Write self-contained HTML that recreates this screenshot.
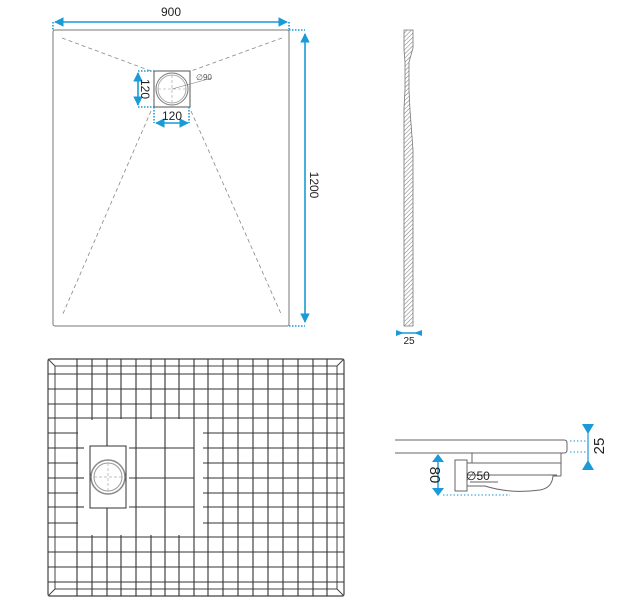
<!DOCTYPE html>
<html><head><style>html,body{margin:0;padding:0;background:#fff}svg{display:block}</style></head>
<body>
<svg width="628" height="600" viewBox="0 0 628 600" xmlns="http://www.w3.org/2000/svg" font-family="Liberation Sans, sans-serif">
<defs>
<marker id="a" viewBox="0 0 10 10" refX="9" refY="5" markerWidth="6" markerHeight="6" orient="auto-start-reverse"><path d="M0,0L10,5L0,10z" fill="#1a9ad6"/></marker>
<pattern id="h" width="3" height="3" patternUnits="userSpaceOnUse" patternTransform="rotate(45)"><line x1="0" y1="0" x2="0" y2="3" stroke="#777" stroke-width="1"/></pattern>
</defs>
<!-- top plan -->
<rect x="53" y="30" width="236" height="296" rx="2" fill="none" stroke="#777" stroke-width="1"/>
<g stroke="#888" stroke-width="0.8" stroke-dasharray="4,3" fill="none">
<line x1="62" y1="38" x2="151" y2="71"/><line x1="282" y1="38" x2="191" y2="71"/>
<line x1="151" y1="111" x2="62" y2="316"/><line x1="191" y1="111" x2="282" y2="316"/>
</g>
<rect x="154" y="71" width="36" height="36" fill="none" stroke="#555" stroke-width="1"/>
<circle cx="172" cy="89" r="16" fill="none" stroke="#777" stroke-width="1"/>
<circle cx="172" cy="89" r="14" fill="none" stroke="#999" stroke-width="0.8"/>
<g stroke="#999" stroke-width="0.6" stroke-dasharray="3,2"><line x1="158" y1="89" x2="186" y2="89"/><line x1="172" y1="75" x2="172" y2="103"/></g>
<line x1="172" y1="89" x2="212" y2="78" stroke="#777" stroke-width="0.6"/>
<text x="196" y="80" font-size="8" fill="#555">∅90</text>
<g stroke="#1a9ad6" stroke-width="1.6" fill="none">
<line x1="55" y1="22" x2="287" y2="22" marker-start="url(#a)" marker-end="url(#a)"/>
<line x1="305" y1="34" x2="305" y2="322" marker-start="url(#a)" marker-end="url(#a)"/>
<line x1="138" y1="73" x2="138" y2="105" marker-start="url(#a)" marker-end="url(#a)"/>
<line x1="156" y1="123" x2="188" y2="123" marker-start="url(#a)" marker-end="url(#a)"/>
</g>
<g stroke="#1a9ad6" stroke-width="1.6" stroke-dasharray="1.5,1.5" fill="none">
<line x1="53" y1="22" x2="53" y2="30"/><line x1="289" y1="22" x2="289" y2="30"/>
<line x1="289" y1="30" x2="305" y2="30"/><line x1="289" y1="326" x2="305" y2="326"/>
<line x1="138" y1="71" x2="154" y2="71"/><line x1="138" y1="107" x2="154" y2="107"/>
<line x1="154" y1="107" x2="154" y2="123"/><line x1="189" y1="107" x2="189" y2="123"/>
</g>
<text x="171" y="16" font-size="12" text-anchor="middle" fill="#222">900</text>
<text transform="translate(310,185) rotate(90)" font-size="12" text-anchor="middle" fill="#222">1200</text>
<text transform="translate(141,89) rotate(90)" font-size="12" text-anchor="middle" fill="#222">120</text>
<text x="172" y="120" font-size="12" text-anchor="middle" fill="#222">120</text>
<!-- side profile -->
<path d="M404,30 L413,30 L413,48 L409,62 L409,90 L410,110 L413,150 L413,326 L404,326 L404,108 L405,90 L405,62 L404,50 Z" fill="url(#h)" stroke="#777" stroke-width="0.8"/>
<line x1="398" y1="333" x2="420" y2="333" stroke="#1a9ad6" stroke-width="1.4"/>
<path d="M396,330L404,333L396,336z M422,330L414,333L422,336z" fill="#1a9ad6"/>
<text x="409" y="344" font-size="10" text-anchor="middle" fill="#222">25</text>
<!-- grid plan -->
<rect x="48" y="359" width="296" height="237" rx="2" fill="none" stroke="#444" stroke-width="1.2"/>
<rect x="55" y="366" width="282" height="223" fill="none" stroke="#444" stroke-width="1"/>
<g stroke="#444" stroke-width="1"><line x1="48" y1="359" x2="55" y2="366"/><line x1="344" y1="359" x2="337" y2="366"/><line x1="48" y1="596" x2="55" y2="589"/><line x1="344" y1="596" x2="337" y2="589"/></g>
<g stroke="#333" stroke-width="1.1">
<line x1="77" y1="359" x2="77" y2="596"/><line x1="92" y1="359" x2="92" y2="596"/><line x1="107" y1="359" x2="107" y2="596"/><line x1="121" y1="359" x2="121" y2="596"/><line x1="136" y1="359" x2="136" y2="596"/><line x1="151" y1="359" x2="151" y2="596"/><line x1="165" y1="359" x2="165" y2="596"/><line x1="179" y1="359" x2="179" y2="596"/><line x1="194" y1="359" x2="194" y2="596"/><line x1="208" y1="359" x2="208" y2="596"/><line x1="223" y1="359" x2="223" y2="596"/><line x1="238" y1="359" x2="238" y2="596"/><line x1="253" y1="359" x2="253" y2="596"/><line x1="268" y1="359" x2="268" y2="596"/><line x1="283" y1="359" x2="283" y2="596"/><line x1="298" y1="359" x2="298" y2="596"/><line x1="313" y1="359" x2="313" y2="596"/><line x1="327" y1="359" x2="327" y2="596"/>
<line x1="48" y1="374" x2="344" y2="374"/><line x1="48" y1="389" x2="344" y2="389"/><line x1="48" y1="404" x2="344" y2="404"/><line x1="48" y1="418" x2="344" y2="418"/><line x1="48" y1="433" x2="344" y2="433"/><line x1="48" y1="448" x2="344" y2="448"/><line x1="48" y1="463" x2="344" y2="463"/><line x1="48" y1="478" x2="344" y2="478"/><line x1="48" y1="493" x2="344" y2="493"/><line x1="48" y1="507" x2="344" y2="507"/><line x1="48" y1="523" x2="344" y2="523"/><line x1="48" y1="537" x2="344" y2="537"/><line x1="48" y1="552" x2="344" y2="552"/><line x1="48" y1="567" x2="344" y2="567"/><line x1="48" y1="582" x2="344" y2="582"/>
</g>
<rect x="78" y="419" width="125" height="116" fill="#fff"/>
<g stroke="#333" stroke-width="1.1">
<line x1="136" y1="419" x2="136" y2="536"/><line x1="165" y1="419" x2="165" y2="536"/><line x1="194" y1="419" x2="194" y2="536"/>
<line x1="129" y1="448" x2="194" y2="448"/><line x1="129" y1="478" x2="194" y2="478"/><line x1="129" y1="507" x2="194" y2="507"/>
<line x1="77" y1="448" x2="84" y2="448"/><line x1="77" y1="478" x2="84" y2="478"/><line x1="77" y1="507" x2="84" y2="507"/>
<line x1="107" y1="419" x2="107" y2="446"/><line x1="107" y1="508" x2="107" y2="536"/>
<line x1="92" y1="419" x2="92" y2="420"/>
</g>
<rect x="90" y="446" width="36" height="62" fill="#fff" stroke="#333" stroke-width="1"/>
<circle cx="108" cy="477" r="17" fill="none" stroke="#888" stroke-width="1.5"/>
<circle cx="108" cy="477" r="14" fill="none" stroke="#999" stroke-width="1"/>
<g stroke="#aaa" stroke-width="0.7" stroke-dasharray="3,2"><line x1="94" y1="477" x2="122" y2="477"/><line x1="108" y1="463" x2="108" y2="491"/></g>
<!-- section -->
<path d="M395,440 L564,440 Q567,440 567,443 L567,450 Q567,453 564,453 L395,453" fill="none" stroke="#666" stroke-width="1"/>
<line x1="472" y1="453" x2="472" y2="463" stroke="#666"/>
<line x1="561" y1="453" x2="561" y2="476" stroke="#666"/>
<rect x="455" y="460" width="12" height="31" fill="none" stroke="#666"/>
<line x1="467" y1="463" x2="561" y2="463" stroke="#666"/>
<line x1="467" y1="475" x2="557" y2="475" stroke="#666"/>
<path d="M467,486 L485,486 Q510,494 540,490 Q552,488 553,476 L561,476" fill="none" stroke="#666"/>
<line x1="470" y1="482" x2="498" y2="482" stroke="#666"/>
<text x="466" y="480" font-size="12" fill="#222">∅50</text>
<line x1="438" y1="460" x2="438" y2="490" stroke="#1a9ad6" stroke-width="1.4"/>
<path d="M432,462L438,454L444,462z M432,488L438,496L444,488z" fill="#1a9ad6"/>
<text transform="translate(430,475) rotate(90)" font-size="15" text-anchor="middle" fill="#222">80</text>
<line x1="443" y1="495" x2="510" y2="495" stroke="#1a9ad6" stroke-dasharray="1.5,2"/>
<line x1="570" y1="441" x2="586" y2="441" stroke="#1a9ad6" stroke-dasharray="1.5,2"/>
<line x1="570" y1="452" x2="586" y2="452" stroke="#1a9ad6" stroke-dasharray="1.5,2"/>
<line x1="588" y1="428" x2="588" y2="467" stroke="#1a9ad6" stroke-width="1.2"/>
<path d="M582,424L594,424L588,434z M582,470L594,470L588,460z" fill="#1a9ad6"/>
<text transform="translate(604,446) rotate(-90)" font-size="15" text-anchor="middle" fill="#222">25</text>
</svg>
</body></html>
